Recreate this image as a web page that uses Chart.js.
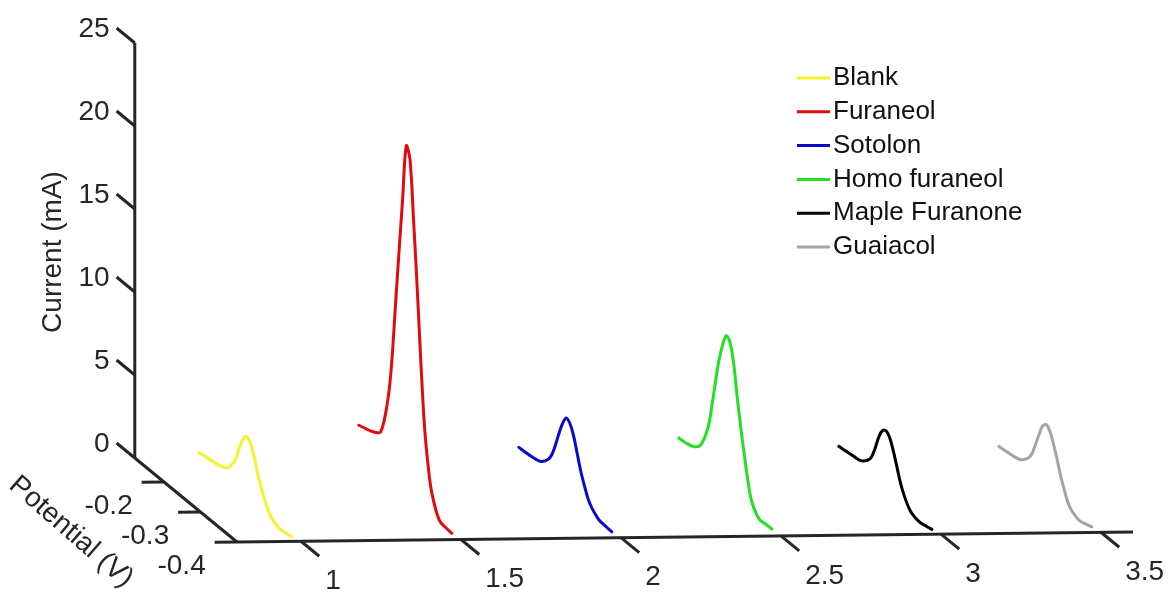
<!DOCTYPE html>
<html>
<head>
<meta charset="utf-8">
<script src="https://cdn.jsdelivr.net/npm/chart.js@4"></script>
<style>
	html, body { margin: 0; padding: 0; background: #fff; }
	#wrap { width: 1169px; height: 601px; position: relative; }
</style>
</head>
<body>
<div id="wrap"><canvas id="chart3d"></canvas></div>
<script>
// Potential grid (V) shared by every voltammogram
var potentials = [-0.12, -0.14, -0.16, -0.18, -0.20, -0.21, -0.22, -0.23, -0.24, -0.25, -0.26, -0.27, -0.28, -0.29, -0.30, -0.31, -0.32, -0.34, -0.36, -0.375];

// Current (mA)
var blank         = [0.29, 0.37, 0.46, 0.55, 0.80, 1.20, 1.60, 2.50, 3.20, 3.62, 3.45, 2.90, 2.05, 1.30, 0.72, 0.26, -0.05, -0.30, -0.25, -0.18];
var furaneol      = [1.82, 1.97, 2.15, 2.50, 4.87, 7.18, 10.7, 14.2, 17.6, 21.0, 20.4, 16.9, 13.0, 8.70, 5.00, 2.80, 1.37, 0.10, -0.05, -0.08];
var sotolon       = [0.38, 0.42, 0.48, 0.62, 1.10, 1.55, 2.30, 3.20, 4.00, 4.50, 4.35, 3.80, 2.90, 2.00, 1.30, 0.70, 0.35, -0.02, -0.08, -0.10];
var homoFuraneol  = [0.84, 0.90, 1.05, 1.50, 2.90, 4.30, 5.95, 7.50, 8.60, 9.35, 9.15, 8.10, 6.20, 4.50, 3.00, 1.60, 0.61, -0.07, -0.05, -0.04];
var mapleFuranone = [0.23, 0.29, 0.36, 0.45, 0.85, 1.23, 1.95, 2.80, 3.35, 3.50, 3.24, 2.60, 1.80, 1.00, 0.45, 0.05, -0.20, -0.33, -0.25, -0.17];
var guaiacol      = [0.12, 0.18, 0.25, 0.40, 0.85, 1.27, 2.00, 2.80, 3.50, 3.78, 3.55, 2.95, 2.20, 1.35, 0.70, 0.13, -0.15, -0.36, -0.25, -0.12];

var sampleNames = ['Blank', 'Furaneol', 'Sotolon', 'Homo furaneol', 'Maple Furanone', 'Guaiacol'];
var samplePositions = [1, 1.5, 2, 2.5, 3, 3.5];
var sampleColors = ['#f4f42a', '#e00c0c', '#0a0acc', '#22e022', '#000000', '#a4a4a4'];
var sampleCurrents = [blank, furaneol, sotolon, homoFuraneol, mapleFuranone, guaiacol];

// Axis ticks
var currentTicks = [0, 5, 10, 15, 20, 25];
var potentialTicks = [-0.2, -0.3, -0.4];
var positionTicks = [1, 1.5, 2, 2.5, 3, 3.5];

// 3D box limits
var X_MIN = 0.8, X_MAX = 3.6;
var P_BACK = -0.12, P_FRONT = -0.4;
var C_MIN = 0, C_MAX = 25;

// Oblique projection: potential axis goes into the page (up-left)
var KX = -365 / 320;
var KY = 300 / 16.6;
var KT = 3.6 / 16.6;

function project(x, p, c) {
	var dp = p - P_FRONT;
	return { x: x + dp * KX, y: c + dp * KY + (x - X_MIN) * KT };
}

var axisColor = '#262626';
var datasets = [];

function axisLine(a, b) {
	datasets.push({
		isAxis: true,
		data: [a, b],
		borderColor: axisColor,
		borderWidth: 3,
		pointRadius: 0,
		tension: 0,
		borderCapStyle: 'butt'
	});
}

// axes
axisLine(project(X_MIN, P_BACK, C_MIN), project(X_MIN, P_BACK, C_MAX));
axisLine(project(X_MIN, P_BACK, C_MIN), project(X_MIN, P_FRONT, C_MIN));
axisLine(project(X_MIN, P_FRONT, C_MIN), project(X_MAX, P_FRONT, C_MIN));
// ticks
currentTicks.forEach(function(c) {
	axisLine(project(X_MIN, P_BACK, c), project(X_MIN, P_BACK + 0.05, c));
});
potentialTicks.forEach(function(p) {
	axisLine(project(X_MIN, p, C_MIN), project(X_MIN - 0.07, p, C_MIN));
});
positionTicks.forEach(function(x) {
	axisLine(project(x, P_FRONT, C_MIN), project(x, P_FRONT - 0.05, C_MIN));
});

// curves
sampleNames.forEach(function(name, i) {
	var pts = potentials.map(function(p, k) {
		return project(samplePositions[i], p, sampleCurrents[i][k]);
	});
	datasets.push({
		label: name,
		data: pts,
		borderColor: sampleColors[i],
		borderWidth: 3,
		pointRadius: 0,
		tension: 0.35,
		borderJoinStyle: 'round',
		borderCapStyle: 'round',
		fill: false
	});
});

var FONT = '"Liberation Sans", Arial, Helvetica, sans-serif';

var labelsPlugin = {
	id: 'labels3d',
	afterDatasetsDraw: function(chart) {
		var ctx = chart.ctx;
		var sx = chart.scales.x, sy = chart.scales.y;
		function px(pt) { return { x: sx.getPixelForValue(pt.x), y: sy.getPixelForValue(pt.y) }; }
		ctx.save();
		ctx.fillStyle = axisColor;
		ctx.font = '28px ' + FONT;

		// current tick labels
		ctx.textAlign = 'right';
		ctx.textBaseline = 'middle';
		currentTicks.forEach(function(c) {
			var e = px(project(X_MIN, P_BACK + 0.05, c));
			ctx.fillText(String(c), e.x - 7, e.y + 1);
		});

		// potential tick labels
		ctx.textAlign = 'center';
		potentialTicks.forEach(function(p) {
			var e = px(project(X_MIN - 0.07, p, C_MIN));
			ctx.fillText(p.toFixed(1), e.x - 33, e.y + 24);
		});

		// position tick labels
		ctx.textAlign = 'left';
		positionTicks.forEach(function(x) {
			var e = px(project(x, P_FRONT - 0.05, C_MIN));
			ctx.fillText(String(x), e.x + 6, e.y + 25);
		});

		// axis titles
		ctx.textAlign = 'center';
		ctx.save();
		ctx.translate(53, 252);
		ctx.rotate(-Math.PI / 2);
		ctx.fillText('Current (mA)', 0, 0);
		ctx.restore();

		ctx.save();
		ctx.translate(71, 532);
		ctx.rotate(41 * Math.PI / 180);
		ctx.fillText('Potential (V)', 0, 0);
		ctx.restore();

		// legend
		ctx.font = '26px ' + FONT;
		ctx.textAlign = 'left';
		ctx.fillStyle = '#111';
		var curves = chart.data.datasets.filter(function(d) { return !d.isAxis; });
		curves.forEach(function(d, i) {
			var y = 78 + i * 33.8;
			ctx.strokeStyle = d.borderColor;
			ctx.lineWidth = 3;
			ctx.beginPath();
			ctx.moveTo(797, y);
			ctx.lineTo(830, y);
			ctx.stroke();
			ctx.fillText(d.label, 833, y);
		});
		ctx.restore();
	}
};

var chart3d = new Chart(document.getElementById('chart3d'), {
	type: 'line',
	data: { datasets: datasets },
	options: {
		responsive: true,
		maintainAspectRatio: false,
		animation: false,
		layout: { padding: 0 },
		plugins: { legend: { display: false }, tooltip: { enabled: false } },
		scales: {
			x: { type: 'linear', display: false, min: X_MIN - 237 / 320, max: X_MIN - 237 / 320 + 1169 / 320 },
			y: { type: 'linear', display: false, min: 542 / 16.6 - 601 / 16.6, max: 542 / 16.6 }
		}
	},
	plugins: [labelsPlugin]
});
</script>
</body>
</html>
